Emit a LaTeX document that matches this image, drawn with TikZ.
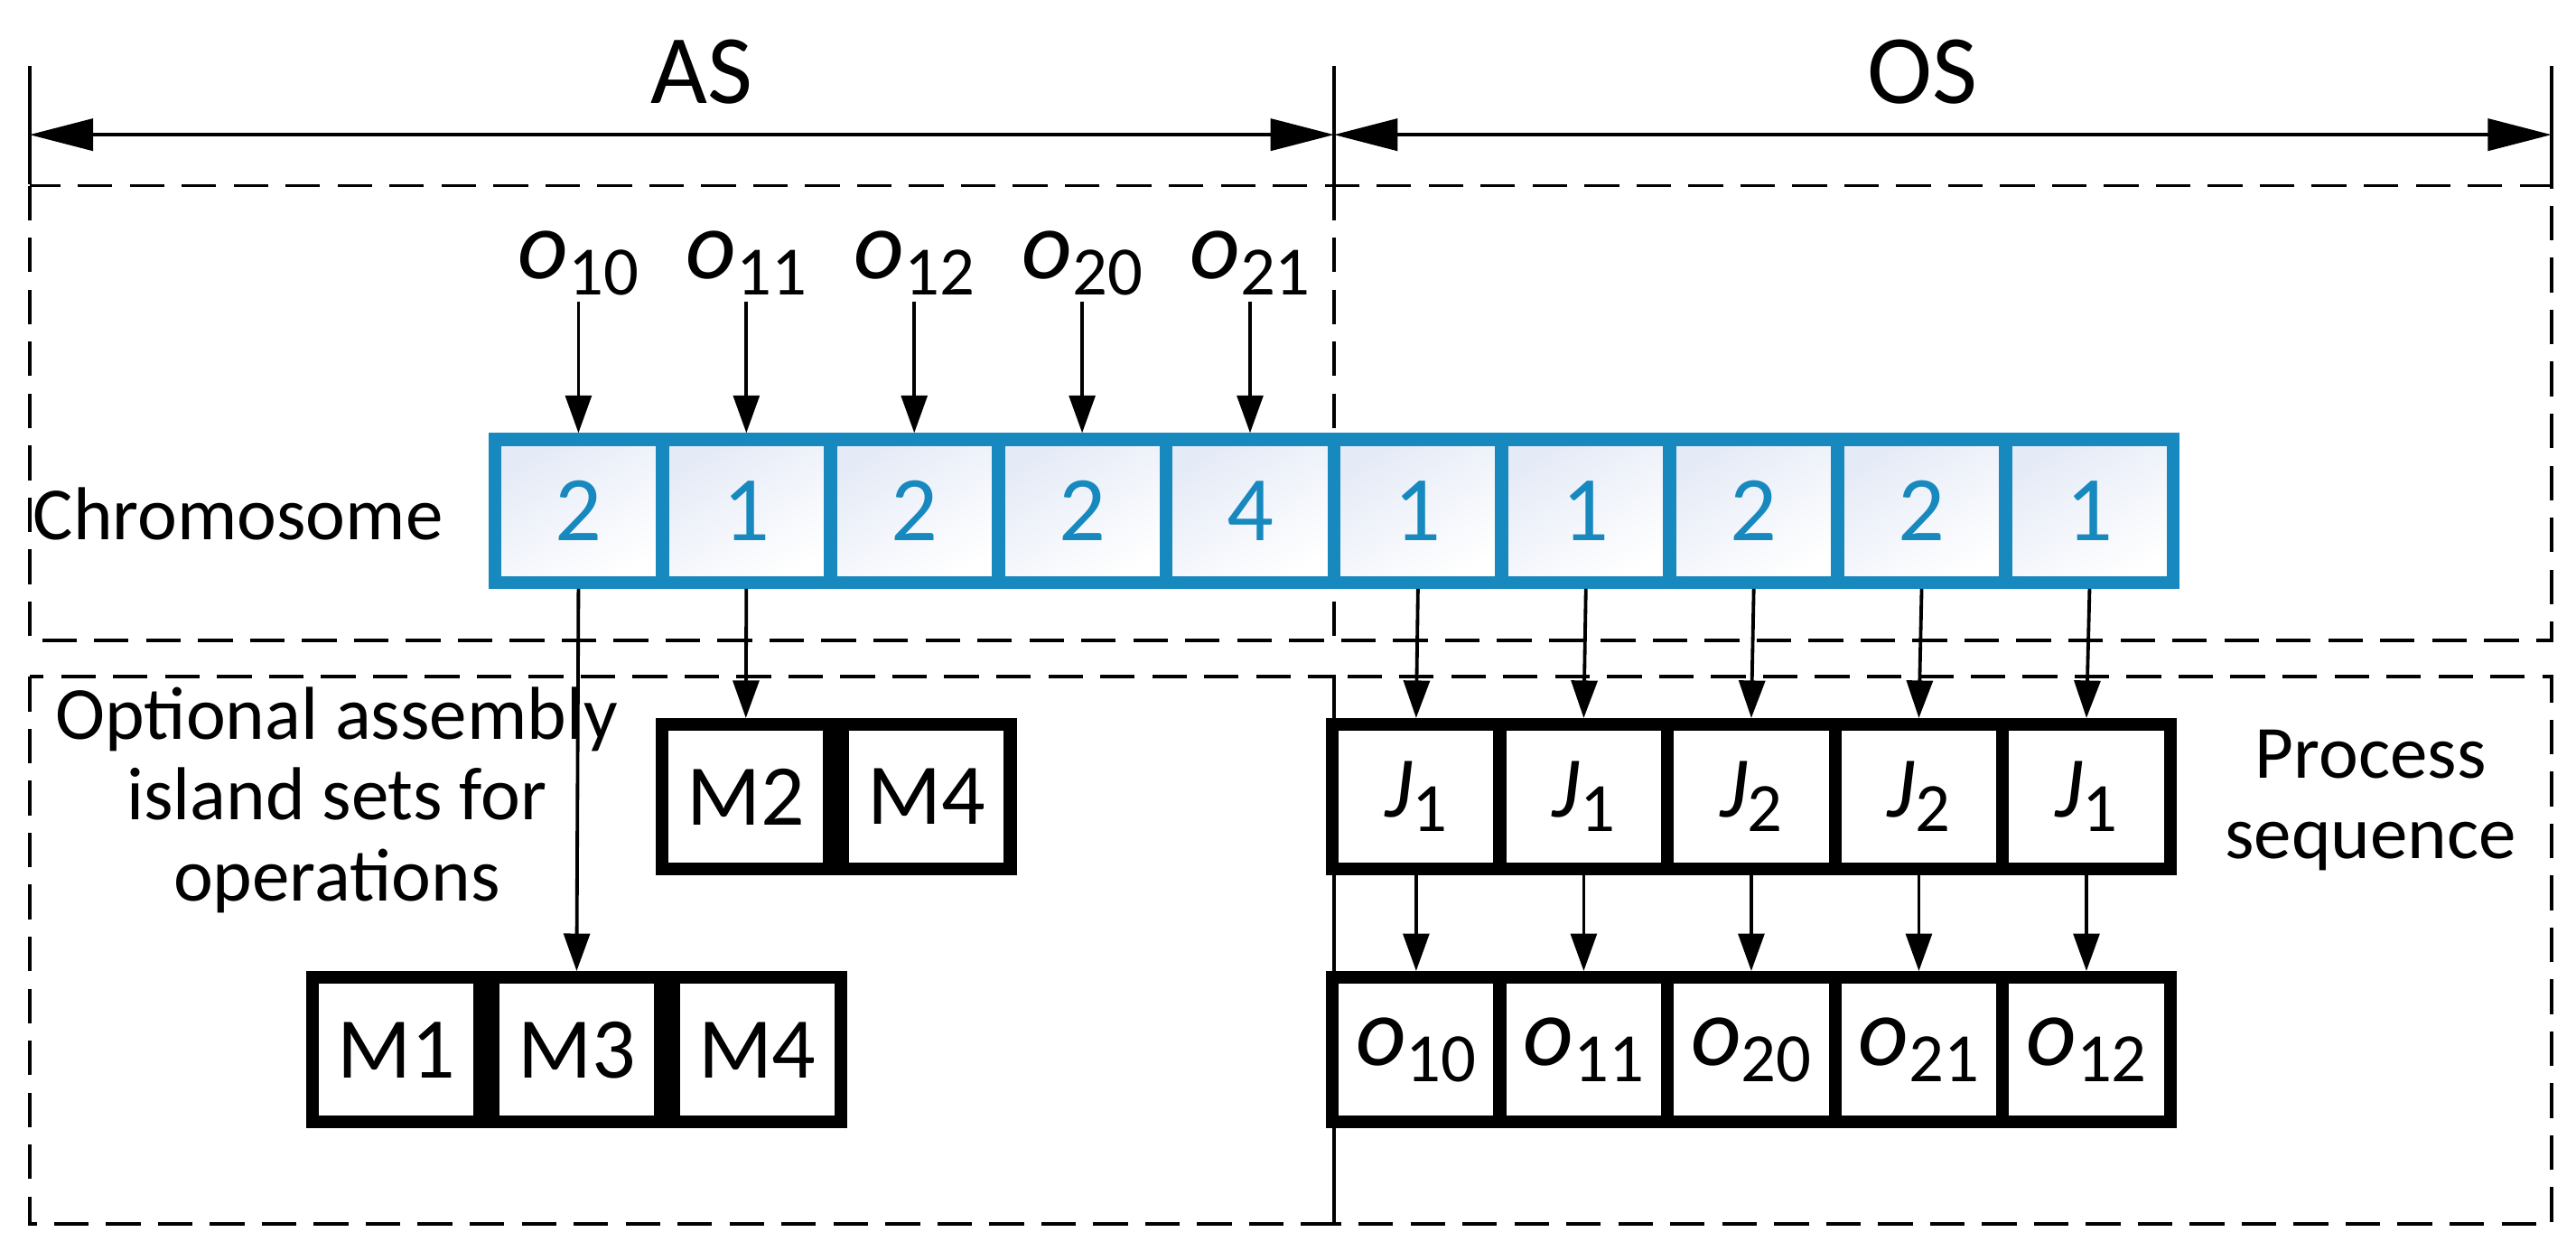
\documentclass[tikz,border=0pt]{standalone}
\usepackage{fontspec}
\setmainfont{Carlito}
\usetikzlibrary{arrows.meta,positioning}
\definecolor{gene_blue}{HTML}{1789BE}
\definecolor{cell_tint}{HTML}{E4EAF6}
\newcommand{\opx}[1]{\textit{o}\raisebox{-0.35ex}{\fontsize{24}{24}\selectfont #1}}
\tikzset{
  gene/.style={draw=gene_blue, line width=4.5pt, minimum width=2.04cm, minimum height=1.74cm,
    inner sep=0pt, top color=cell_tint, bottom color=white, shading angle=30,
    text=gene_blue, font=\fontsize{32}{32}\selectfont},
  mach/.style={draw=black, line width=4.5pt, fill=white, minimum width=2.04cm, minimum height=1.76cm,
    inner sep=0pt, font=\fontsize{30}{30}\selectfont},
  arr/.style={line width=1.2pt, -{Triangle[length=13pt,width=9pt]}},
  dim/.style={line width=1.2pt, {Triangle[length=22pt,width=11pt]}-{Triangle[length=22pt,width=11pt]}},
  frame/.style={line width=1.2pt, dash pattern=on 12pt off 6pt},
  lbl/.style={font=\fontsize{26}{28}\selectfont, align=center}
}
\begin{document}
\begin{tikzpicture}[x=0.02cm, y=-0.02cm]
  \useasboundingbox (0,0) rectangle (1568,761);

  % Dimension line on top
  \coordinate (dl) at (18,82);
  \coordinate (dm) at (812,82);
  \coordinate (dr) at (1553,82);
  \draw[line width=1.2pt] (18,40) -- (18,112) (812,40) -- (812,112) (1553,40) -- (1553,112);
  \draw[dim] (dl) -- (dm);
  \draw[dim] (dm) -- (dr);
  \node[font=\fontsize{34}{34}\selectfont] (as) at (427,44) {AS};
  \node[font=\fontsize{34}{34}\selectfont] (os) at (1170,44) {OS};

  % Dashed frames
  \draw[frame] (18,113) rectangle (1553,390);
  \draw[frame] (812,113) -- (812,390);
  \draw[frame] (18,412) rectangle (812,745);
  \draw[frame] (812,412) rectangle (1553,745);

  % Chromosome
  \foreach \v [count=\i] in {2,1,2,2,4,1,1,2,2,1}
    \node[gene] (c\i) at ({301+102.2*(\i-0.5)},311) {\v};
  \node[lbl] (chrom) at (145,313) {Chromosome};

  % Operation labels
  \foreach \s [count=\i] in {10,11,12,20,21} {
    \node[font=\fontsize{34}{34}\selectfont] (o\i) at ({301+102.2*(\i-0.5)},160) {\opx{\s}};
    \draw[arr] (o\i.south) ++(0,-2) -- (c\i.north);
  }

  % Machine sets
  \node[mach] (m2) at (454,485) {M2};
  \node[mach, right=0pt of m2] (m4a) {M4};
  \node[mach] (m3) at (351,639) {M3};
  \node[mach, left=0pt of m3] (m1) {M1};
  \node[mach, right=0pt of m3] (m4b) {M4};
  \draw[arr] (c1.south) -- (m3.north);
  \draw[arr] (c2.south) -- (m2.north);
  \node[lbl] (opt) at (205,487) {Optional assembly\\island sets for\\operations};

  % Process sequence
  \foreach \j/\o [count=\i] in {1/10,1/11,2/20,2/21,1/12} {
    \pgfmathtruncatemacro{\k}{\i+5}
    \node[mach] (j\i) at ({811+102*(\i-0.5)},485) {\textit{J}\raisebox{-0.35ex}{\fontsize{24}{24}\selectfont\j}};
    \node[mach] (q\i) at ({811+102*(\i-0.5)},639) {\fontsize{34}{34}\selectfont\opx{\o}};
    \draw[arr] (c\k.south) -- (j\i.north);
    \draw[arr] (j\i.south) -- (q\i.north);
  }
  \node[lbl] (proc) at (1443,487) {Process\\sequence};
\end{tikzpicture}
\end{document}
